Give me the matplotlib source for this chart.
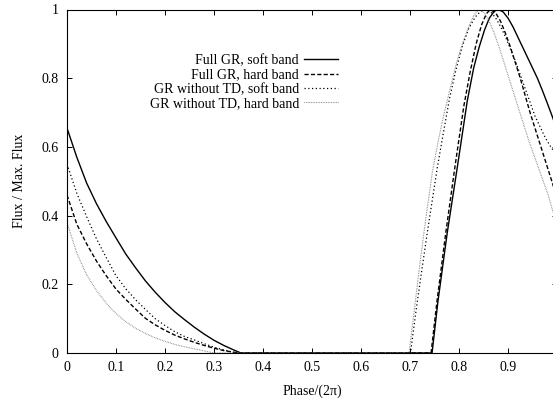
import matplotlib
matplotlib.use("Agg")
import matplotlib.pyplot as plt
import numpy as np

# light curves (phase in units of 2pi, flux / max flux)
phase_gr_soft = [0.0, 0.02, 0.04, 0.06, 0.08, 0.10, 0.12, 0.14, 0.16, 0.18, 0.20, 0.22,
                 0.24, 0.26, 0.28, 0.30, 0.32, 0.34, 0.355, 0.745, 0.757, 0.776, 0.797,
                 0.817, 0.83, 0.841, 0.852, 0.862, 0.872, 0.88, 0.89, 0.90, 0.91, 0.92,
                 0.93, 0.94, 0.95, 0.96, 0.97, 0.98, 0.99, 1.0]
flux_gr_soft = [0.655, 0.57, 0.495, 0.435, 0.383, 0.335, 0.288, 0.248, 0.21, 0.177, 0.147,
                0.12, 0.097, 0.075, 0.055, 0.037, 0.022, 0.009, 0.0, 0.0, 0.15, 0.35, 0.545,
                0.735, 0.83, 0.89, 0.94, 0.975, 0.995, 1.0, 0.993, 0.975, 0.95, 0.92, 0.89,
                0.86, 0.83, 0.80, 0.765, 0.728, 0.69, 0.65]

phase_gr_hard = [0.0, 0.02, 0.04, 0.06, 0.08, 0.10, 0.12, 0.14, 0.16, 0.18, 0.20, 0.22,
                 0.24, 0.26, 0.28, 0.30, 0.32, 0.35, 0.743, 0.755, 0.773, 0.792, 0.81,
                 0.823, 0.835, 0.846, 0.856, 0.864, 0.875, 0.885, 0.895, 0.905, 0.915,
                 0.925, 0.935, 0.945, 0.955, 0.965, 0.975, 0.985, 0.995, 1.0]
flux_gr_hard = [0.46, 0.375, 0.318, 0.268, 0.225, 0.186, 0.156, 0.128, 0.101, 0.082, 0.066,
                0.052, 0.041, 0.031, 0.022, 0.014, 0.007, 0.0, 0.0, 0.15, 0.35, 0.545, 0.72,
                0.82, 0.9, 0.955, 0.988, 1.0, 0.99, 0.965, 0.93, 0.89, 0.845, 0.80, 0.75,
                0.70, 0.655, 0.61, 0.565, 0.52, 0.475, 0.455]

phase_notd_soft = [0.0, 0.02, 0.04, 0.06, 0.08, 0.10, 0.12, 0.14, 0.16, 0.18, 0.20, 0.22,
                   0.24, 0.26, 0.28, 0.30, 0.32, 0.345, 0.701, 0.712, 0.724, 0.735, 0.746,
                   0.756, 0.768, 0.78, 0.793, 0.806, 0.82, 0.833, 0.845, 0.854, 0.865, 0.875,
                   0.885, 0.895, 0.905, 0.915, 0.925, 0.935, 0.945, 0.955, 0.965, 0.975,
                   0.985, 0.995, 1.0]
flux_notd_soft = [0.55, 0.465, 0.397, 0.333, 0.278, 0.225, 0.187, 0.155, 0.127, 0.100, 0.080,
                  0.062, 0.048, 0.038, 0.027, 0.017, 0.009, 0.0, 0.0, 0.12, 0.24, 0.348, 0.45,
                  0.542, 0.64, 0.736, 0.82, 0.89, 0.945, 0.978, 0.996, 1.0, 0.993, 0.975, 0.95,
                  0.92, 0.885, 0.85, 0.81, 0.77, 0.73, 0.69, 0.66, 0.63, 0.605, 0.585, 0.575]

phase_notd_hard = [0.0, 0.02, 0.04, 0.06, 0.08, 0.10, 0.12, 0.14, 0.16, 0.18, 0.20, 0.22,
                   0.24, 0.26, 0.28, 0.30, 0.698, 0.71, 0.722, 0.734, 0.746, 0.758, 0.77,
                   0.782, 0.795, 0.808, 0.82, 0.831, 0.841, 0.852, 0.862, 0.872, 0.882, 0.892,
                   0.902, 0.912, 0.922, 0.932, 0.942, 0.952, 0.962, 0.972, 0.982, 0.992, 1.0]
flux_notd_hard = [0.38, 0.291, 0.228, 0.182, 0.145, 0.115, 0.091, 0.072, 0.057, 0.044, 0.034,
                  0.025, 0.018, 0.012, 0.006, 0.0, 0.0, 0.14, 0.28, 0.41, 0.53, 0.62, 0.70,
                  0.77, 0.845, 0.905, 0.95, 0.985, 1.0, 0.99, 0.965, 0.93, 0.89, 0.845, 0.80,
                  0.755, 0.71, 0.665, 0.62, 0.58, 0.54, 0.5, 0.46, 0.41, 0.38]

labels = ["Full GR, soft band", "Full GR, hard band",
          "GR without TD, soft band", "GR without TD, hard band"]
xtick_vals = [0, 0.1, 0.2, 0.3, 0.4, 0.5, 0.6, 0.7, 0.8, 0.9]
xtick_labels = ["0", "0.1", "0.2", "0.3", "0.4", "0.5", "0.6", "0.7", "0.8", "0.9"]
ytick_vals = [0, 0.2, 0.4, 0.6, 0.8, 1.0]
ytick_labels = ["0", "0.2", "0.4", "0.6", "0.8", "1"]

plt.rcParams['font.family'] = ['Liberation Serif', 'DejaVu Serif']
plt.rcParams['font.size'] = 10

W, H = 553, 400
fig = plt.figure(figsize=(W / 100, H / 100), dpi=100)
# gnuplot-like box, right edge (phase 1) falls just past the image border
ax = fig.add_axes([67 / W, 47 / H, 490 / W, 343.5 / H])

ax.plot(phase_gr_soft, flux_gr_soft, color='black', lw=1.0, label=labels[0])
ax.plot(phase_gr_hard, flux_gr_hard, color='black', lw=1.0, dashes=(3, 1.6), label=labels[1])
ax.plot(phase_notd_soft, flux_notd_soft, color='black', lw=0.9, dashes=(1, 2), label=labels[2])
ax.plot(phase_notd_hard, flux_notd_hard, color='0.45', lw=0.8, dashes=(0.6, 0.9), label=labels[3])

ax.set_xlim(0, 1)
ax.set_ylim(0, 1)
ax.set_xticks(xtick_vals)
ax.set_xticklabels(xtick_labels)
ax.set_yticks(ytick_vals)
ax.set_yticklabels(ytick_labels)
ax.tick_params(direction='in', length=3.6, width=0.7, top=True, right=True, pad=6)
for s in ax.spines.values():
    s.set_linewidth(0.8)

ax.set_xlabel('Phase/(2π)', labelpad=7)
ax.set_ylabel('Flux / Max. Flux')
ax.yaxis.set_label_coords(-0.084, 0.5)

leg = ax.legend(loc='upper right', bbox_to_anchor=(338 / W, (H - 54) / H),
                bbox_transform=fig.transFigure, frameon=False, markerfirst=False,
                handlelength=2.45, handletextpad=0.36, labelspacing=0.1,
                borderpad=0, borderaxespad=0)

fig.savefig('out.png', dpi=100)
